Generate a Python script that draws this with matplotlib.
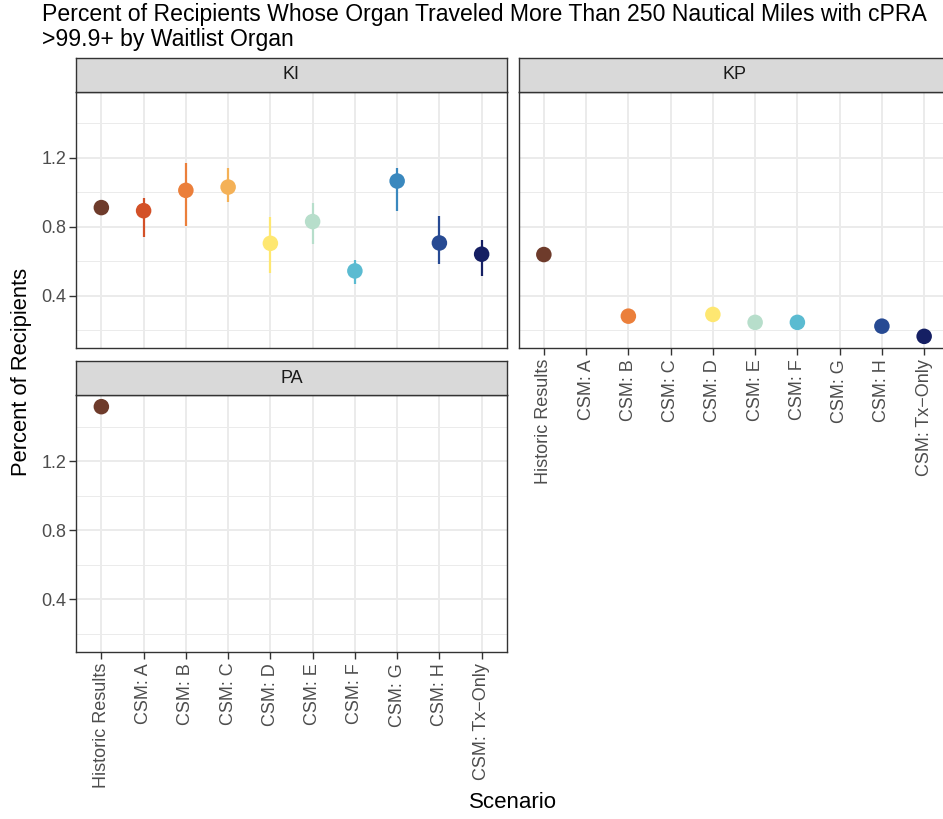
import numpy as np
import matplotlib.pyplot as plt
from matplotlib.ticker import MultipleLocator

plt.rcParams['font.family'] = ['Liberation Sans', 'DejaVu Sans']

# --- data ---
scenarios = ["Historic Results", "CSM: A", "CSM: B", "CSM: C", "CSM: D",
             "CSM: E", "CSM: F", "CSM: G", "CSM: H", "CSM: Tx\u2212Only"]
colors = ["#6E3B2B", "#D35128", "#EB7F3B", "#F4B157", "#FEE771",
          "#B7DECB", "#5BBBD1", "#3A88BE", "#274A93", "#151F63"]

nan = np.nan
ki_est = [0.911, 0.893, 1.011, 1.030, 0.704, 0.830, 0.544, 1.065, 0.706, 0.641]
ki_lo  = [nan,   0.743, 0.803, 0.943, 0.531, 0.699, 0.467, 0.891, 0.583, 0.512]
ki_hi  = [nan,   0.969, 1.171, 1.142, 0.857, 0.937, 0.610, 1.142, 0.862, 0.722]

kp_est = [0.639, nan, 0.282, nan, 0.292, 0.246, 0.246, nan, 0.224, 0.165]
pa_est = [1.515, nan, nan, nan, nan, nan, nan, nan, nan, nan]

organs = ["KI", "KP", "PA"]
estimates = {"KI": ki_est, "KP": kp_est, "PA": pa_est}
lowers = {"KI": ki_lo}
uppers = {"KI": ki_hi}

# --- shared scales (ggplot style 5% expansion) ---
allv = np.concatenate([ki_est, ki_lo, ki_hi, kp_est, pa_est])
vmin, vmax = np.nanmin(allv), np.nanmax(allv)
pad = 0.05 * (vmax - vmin)
ylim = (vmin - pad, vmax + pad)
xpos = np.arange(len(scenarios))
xlim = (-0.6, len(scenarios) - 0.4)

W, H = 943, 819
fig = plt.figure(figsize=(W / 100, H / 100), dpi=100)


def px_rect(x0, y0, x1, y1):
    return [x0 / W, 1 - y1 / H, (x1 - x0) / W, (y1 - y0) / H]


layout = {
    "KI": (76, 91.7, 507, 348),
    "KP": (518.5, 91.7, 949.5, 348),
    "PA": (76, 395, 507, 651.7),
}
strip_h = 33.7
border = "#333333"

for organ in organs:
    x0, y0, x1, y1 = layout[organ]
    ax = fig.add_axes(px_rect(x0, y0, x1, y1))
    ax.set_xlim(*xlim)
    ax.set_ylim(*ylim)
    ax.set_axisbelow(True)
    ax.set_xticks(xpos)
    ax.yaxis.set_major_locator(MultipleLocator(0.4))
    ax.yaxis.set_minor_locator(MultipleLocator(0.2))
    ax.grid(which="major", color="#EBEBEB", lw=1.4)
    ax.grid(which="minor", axis="y", color="#EBEBEB", lw=0.7)
    for s in ax.spines.values():
        s.set_color(border)
        s.set_linewidth(1.0)
    ax.tick_params(which="minor", length=0)
    ax.tick_params(which="major", length=5, width=1.0, color=border,
                   labelcolor="#4D4D4D", labelsize=13, pad=2)

    est = np.array(estimates[organ], dtype=float)
    if organ in lowers:
        lo = np.array(lowers[organ], dtype=float)
        hi = np.array(uppers[organ], dtype=float)
        ok = ~np.isnan(lo)
        ax.vlines(xpos[ok], lo[ok], hi[ok], colors=np.array(colors)[ok],
                  lw=1.6, zorder=3)
    ok = ~np.isnan(est)
    ax.scatter(xpos[ok], est[ok], s=125, c=np.array(colors)[ok],
               edgecolors="none", zorder=4)

    # left column keeps y labels, bottom of each column keeps x labels
    if organ == "KP":
        ax.tick_params(axis="y", left=False, labelleft=False)
    else:
        ax.set_yticks([0.4, 0.8, 1.2])
    if organ == "KI":
        ax.tick_params(axis="x", bottom=False, labelbottom=False)
    else:
        ax.set_xticklabels(scenarios, rotation=90, ha="center", va="top")
        ax.tick_params(axis="x", pad=3)

    # facet strip
    sax = fig.add_axes(px_rect(x0, y0 - strip_h, x1, y0))
    sax.set_facecolor("#D9D9D9")
    sax.set_xticks([])
    sax.set_yticks([])
    for s in sax.spines.values():
        s.set_color(border)
        s.set_linewidth(1.0)
    sax.text(0.5, 0.5, organ, ha="center", va="center", fontsize=13,
             color="#1A1A1A", transform=sax.transAxes)

fig.text(42 / W, 1 - 3 / H,
         "Percent of Recipients Whose Organ Traveled More Than 250 Nautical Miles with cPRA\n>99.9+ by Waitlist Organ",
         ha="left", va="top", fontsize=16.6, linespacing=1.1)
fig.text(22 / W, 1 - 372 / H, "Percent of Recipients", rotation=90,
         ha="center", va="center", fontsize=15.8)
fig.text(513 / W, 1 - 803 / H, "Scenario", ha="center", va="center",
         fontsize=16)

fig.savefig("out.png", dpi=100)
